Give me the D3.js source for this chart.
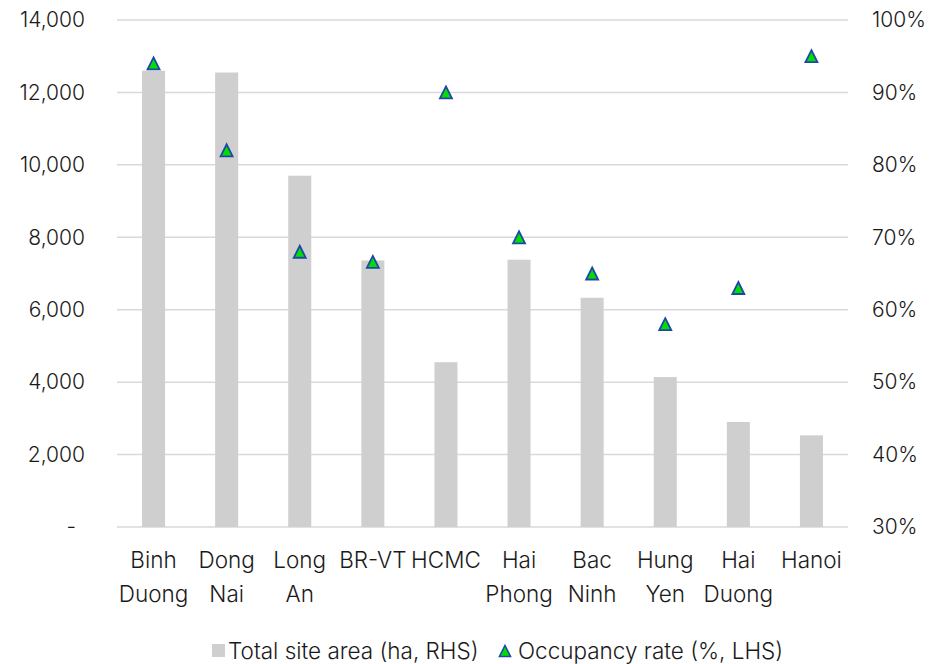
<!DOCTYPE html>
<html>
<head>
<meta charset="utf-8">
<script src="https://cdn.jsdelivr.net/npm/d3@7"></script>
<style>
  html, body { margin: 0; padding: 0; background: #ffffff; }
  svg { display: block; }
  text { font-family: Inter, "Noto Sans", sans-serif; fill: #1a1a1a; font-weight: 300; }
</style>
</head>
<body>
<svg id="chart" width="936" height="664"></svg>
<script>
// Provinces / cities (label lines)
const categories = [
  ["Binh", "Duong"], ["Dong", "Nai"], ["Long", "An"], ["BR-VT"], ["HCMC"],
  ["Hai", "Phong"], ["Bac", "Ninh"], ["Hung", "Yen"], ["Hai", "Duong"], ["Hanoi"]
];
// Total site area, ha
const siteArea = [12600, 12550, 9700, 7360, 4550, 7380, 6330, 4140, 2900, 2530];
// Occupancy rate, %
const occupancy = [94, 82, 68, 66.6, 90, 70, 65, 58, 63, 95];
// Axis ticks
const areaTicks = [0, 2000, 4000, 6000, 8000, 10000, 12000, 14000];
const rateTicks = [30, 40, 50, 60, 70, 80, 90, 100];
const legendLabels = ["Total site area (ha, RHS)", "Occupancy rate (%, LHS)"];

const svg = d3.select("#chart");
const plotLeft = 117, plotRight = 848, plotTop = 20, plotBottom = 527;
const FONT = "Inter, 'Noto Sans', sans-serif";

const x = d3.scaleBand()
  .domain(d3.range(categories.length))
  .range([plotLeft, plotRight])
  .paddingInner(0.685)
  .paddingOuter(0.3425);

const yArea = d3.scaleLinear().domain([0, 14000]).range([plotBottom, plotTop]);
const yRate = d3.scaleLinear().domain([30, 100]).range([plotBottom, plotTop]);

// Triangle marker centred on its bounding box
const boxTriangle = (w, h) => ({
  draw(ctx) {
    ctx.moveTo(0, -h / 2);
    ctx.lineTo(w / 2, h / 2);
    ctx.lineTo(-w / 2, h / 2);
    ctx.closePath();
  }
});

// Gridlines
svg.append("g")
  .selectAll("line")
  .data(areaTicks)
  .join("line")
  .attr("x1", plotLeft).attr("x2", plotRight)
  .attr("y1", d => yArea(d)).attr("y2", d => yArea(d))
  .attr("stroke", "#d9d9d9")
  .attr("stroke-width", 1.5);

// Left axis
const fmt = d3.format(",");
const leftAxis = svg.append("g")
  .attr("transform", `translate(${plotLeft},0)`)
  .call(d3.axisLeft(yArea).tickValues(areaTicks)
    .tickFormat(d => d === 0 ? "-" : fmt(d))
    .tickSize(0).tickPadding(32));
leftAxis.select(".domain").remove();
leftAxis.selectAll("text")
  .attr("font-size", 21)
  .attr("font-family", FONT)
  .attr("fill", "#1a1a1a")
  .attr("dx", d => d === 0 ? -9 : 0);

// Right axis
const rightAxis = svg.append("g")
  .attr("transform", `translate(${plotRight},0)`)
  .call(d3.axisRight(yRate).tickValues(rateTicks)
    .tickFormat(d => d + "%")
    .tickSize(0).tickPadding(24));
rightAxis.select(".domain").remove();
rightAxis.selectAll("text")
  .attr("font-size", 21)
  .attr("font-family", FONT)
  .attr("fill", "#1a1a1a");

// Bars
svg.append("g")
  .selectAll("rect")
  .data(siteArea)
  .join("rect")
  .attr("x", (d, i) => x(i))
  .attr("width", x.bandwidth())
  .attr("y", d => yArea(d))
  .attr("height", d => yArea(0) - yArea(d))
  .attr("fill", "#cfcfcf");

// Occupancy markers
const tri = d3.symbol().type(boxTriangle(12, 12));
svg.append("g")
  .selectAll("path")
  .data(occupancy)
  .join("path")
  .attr("d", tri)
  .attr("transform", (d, i) => `translate(${x(i) + x.bandwidth() / 2},${yRate(d)})`)
  .attr("fill", "#00e000")
  .attr("stroke", "#2046a8")
  .attr("stroke-width", 1.8)
  .attr("stroke-linejoin", "miter");

// Category labels
const xl = svg.append("g");
categories.forEach((lines, i) => {
  const t = xl.append("text")
    .attr("text-anchor", "middle")
    .attr("font-size", 22.5)
    .attr("x", x(i) + x.bandwidth() / 2)
    .attr("y", 568);
  lines.forEach((ln, j) => {
    t.append("tspan")
      .attr("x", x(i) + x.bandwidth() / 2)
      .attr("dy", j === 0 ? 0 : 33.5)
      .text(ln);
  });
});

// Legend
const lg = svg.append("g");
lg.append("rect")
  .attr("x", 212).attr("y", 644).attr("width", 13).attr("height", 13)
  .attr("fill", "#cfcfcf");
lg.append("text")
  .attr("x", 228).attr("y", 659).attr("font-size", 22.5)
  .text(legendLabels[0]);
lg.append("path")
  .attr("d", d3.symbol().type(boxTriangle(11, 11)))
  .attr("transform", "translate(505,651)")
  .attr("fill", "#00e000")
  .attr("stroke", "#2046a8")
  .attr("stroke-width", 1.6);
lg.append("text")
  .attr("x", 518).attr("y", 659).attr("font-size", 22.5)
  .text(legendLabels[1]);
</script>
</body>
</html>
